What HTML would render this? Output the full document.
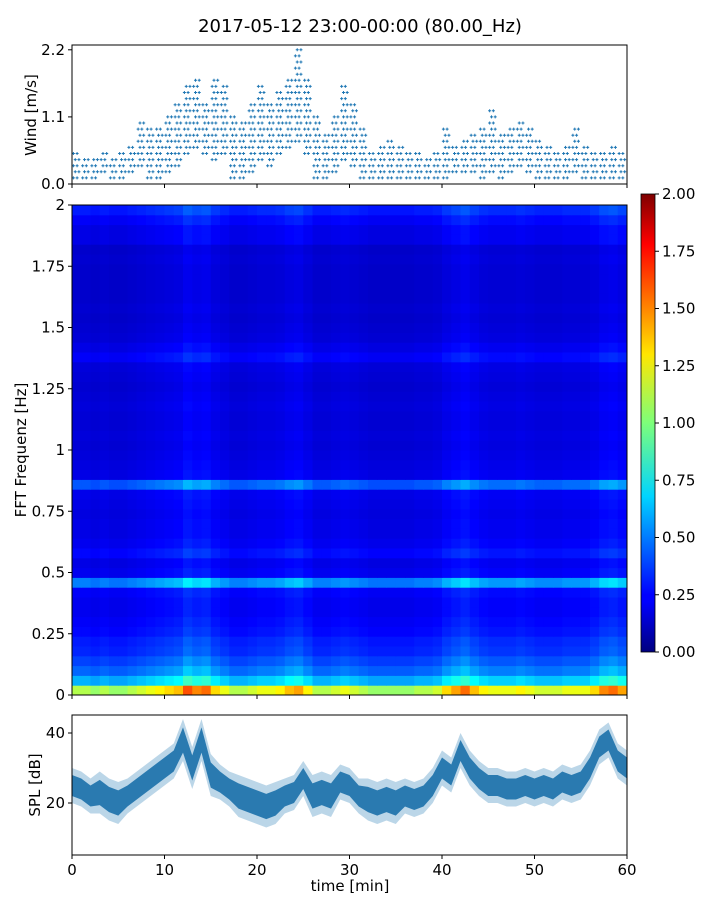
<!DOCTYPE html>
<html><head><meta charset="utf-8">
<style>
body{margin:0;background:#fff;font-family:"Liberation Sans","DejaVu Sans",sans-serif;}
svg text{font-family:"DejaVu Sans","Liberation Sans",sans-serif;}
</style></head>
<body>
<svg id="chart" width="720" height="900" xmlns="http://www.w3.org/2000/svg">
<defs>
<linearGradient id="jetg" x1="0" y1="1" x2="0" y2="0">
<stop offset="0" stop-color="#00007f"/><stop offset="0.11" stop-color="#0000ff"/>
<stop offset="0.125" stop-color="#0000ff"/><stop offset="0.34" stop-color="#00d4ff"/>
<stop offset="0.5" stop-color="#7dff7a"/><stop offset="0.65" stop-color="#ffe600"/>
<stop offset="0.89" stop-color="#ff0000"/><stop offset="1" stop-color="#7f0000"/>
</linearGradient>
</defs>
<text x="360" y="32" font-size="18" text-anchor="middle">2017-05-12 23:00-00:00 (80.00_Hz)</text>
<g id="wind"></g>
<g id="spec"></g>
<g id="cbar"></g>
<g id="spl"></g>
</svg>
<script>
const minutes=[...Array(60).keys()];
const windMax=[0.55,0.45,0.45,0.55,0.45,0.55,0.65,1.0,0.9,0.9,1.1,1.3,1.6,1.75,1.3,1.75,1.65,1.1,1.0,1.3,1.6,1.3,1.5,1.7,2.2,1.7,1.1,0.8,1.1,1.6,1.3,0.9,0.55,0.65,0.75,0.65,0.55,0.55,0.45,0.55,0.9,0.65,0.7,0.8,0.9,1.2,0.8,0.9,1.0,0.9,0.7,0.65,0.55,0.65,0.9,0.65,0.55,0.55,0.65,0.55];
const windMin=[0.1,0.1,0.1,0.2,0.1,0.1,0.2,0.3,0.1,0.1,0.2,0.3,0.5,0.6,0.5,0.4,0.5,0.1,0.1,0.2,0.4,0.3,0.5,0.6,0.7,0.5,0.1,0.1,0.2,0.4,0.3,0.1,0.1,0.1,0.1,0.1,0.1,0.1,0.1,0.1,0.1,0.2,0.2,0.2,0.1,0.2,0.1,0.2,0.3,0.2,0.1,0.1,0.1,0.1,0.2,0.1,0.1,0.1,0.1,0.1];
const splMean=[25,24,22,23,21,20,22,24,26,28,30,32,38,30,38,28,26,24,22,21,20,19,20,22,23,27,22,23,22,26,25,22,21,20,21,20,22,21,22,25,30,28,35,30,27,25,25,24,24,25,24,25,24,26,25,26,30,36,38,32,30];
const splSpread=[5,5,5,6,6,6,5,5,5,5,5,5,6,6,6,6,5,5,6,6,6,6,6,5,5,5,6,6,6,5,5,5,6,6,6,6,5,5,5,5,5,5,5,5,5,5,5,5,5,5,5,5,5,5,5,5,5,5,5,5,5];
const freqRows=[1.1,0.6,0.45,0.38,0.32,0.3,0.26,0.24,0.22,0.22,0.24,0.5,0.22,0.2,0.26,0.22,0.2,0.2,0.19,0.2,0.21,0.42,0.2,0.19,0.18,0.17,0.18,0.17,0.17,0.18,0.17,0.16,0.17,0.18,0.24,0.2,0.17,0.16,0.15,0.16,0.15,0.15,0.15,0.15,0.16,0.15,0.2,0.2,0.24,0.3];
const timeCols=[1.0,1.0,0.95,1.0,0.95,0.95,1.0,1.05,1.1,1.15,1.2,1.25,1.45,1.35,1.4,1.2,1.1,1.0,1.0,1.05,1.1,1.1,1.15,1.25,1.3,1.15,1.0,1.0,1.05,1.1,1.05,1.0,0.95,0.95,0.95,0.95,0.95,1.0,1.0,1.05,1.2,1.3,1.4,1.25,1.15,1.1,1.1,1.1,1.15,1.1,1.05,1.05,1.05,1.1,1.1,1.1,1.2,1.35,1.4,1.3];
const xTicks=[0,10,20,30,40,50,60];
const windTicks=[0.0,1.1,2.2];
const specTicks=[0,0.25,0.5,0.75,1,1.25,1.5,1.75,2];
const specTickLabels=["0","0.25","0.5","0.75","1","1.25","1.5","1.75","2"];
const cbarTicks=[0,0.25,0.5,0.75,1,1.25,1.5,1.75,2];
const splTicks=[20,40];

const NS="http://www.w3.org/2000/svg";
function mk(tag,attrs,parent){const e=document.createElementNS(NS,tag);for(const k in attrs)e.setAttribute(k,attrs[k]);parent.appendChild(e);return e;}
const X0=72,X1=627;
const xs=t=>X0+(t/60)*(X1-X0);
const wy=v=>184-v*61;
const fy=f=>695-f*245;
const sy=d=>873-d*3.5;
const cy=v=>652-v*229;

function jet(v){v=Math.max(0,Math.min(1,v));
 const r=Math.max(0,Math.min(1,1.5-Math.abs(4*v-3))),g=Math.max(0,Math.min(1,1.5-Math.abs(4*v-2))),b=Math.max(0,Math.min(1,1.5-Math.abs(4*v-1)));
 return `rgb(${Math.round(r*255)},${Math.round(g*255)},${Math.round(b*255)})`;}

function frame(g,y0,y1,name){const r=mk('rect',{x:X0,y:y0,width:X1-X0,height:y1-y0,fill:'none',stroke:'#000','stroke-width':1},g);}
function xtickmarks(g,y1,labels){xTicks.forEach(t=>{const l=mk('line',{x1:xs(t),x2:xs(t),y1:y1,y2:y1+4,stroke:'#000'},g);
 if(labels){const tx=mk('text',{x:xs(t),y:y1+20,'font-size':15,'text-anchor':'middle'},g);tx.textContent=t;}});}

// Wind
const wg=document.getElementById('wind');
minutes.forEach(m=>{
 let n=0;
 for(let v=windMin[m];v<=windMax[m]+0.001;v+=0.1){
  n++;
  const ks=(n%2)?[0.15,0.55]:[0.35,0.75];
  ks.forEach(k=>{
   const x=xs(m+k),y=wy(v);
   const p=mk('path',{d:`M${x-1.5},${y}h3M${x},${y-1.5}v3`,stroke:'#1f77b4','stroke-width':1},wg);
   
   
  });}});
frame(wg,45,184,'wind-axes');
xtickmarks(wg,184,false);
windTicks.forEach(v=>{mk('line',{x1:X0-4,x2:X0,y1:wy(v),y2:wy(v),stroke:'#000'},wg);
 const t=mk('text',{x:X0-7,y:wy(v)+5,'font-size':15,'text-anchor':'end'},wg);t.textContent=v.toFixed(1);
 });
{const t=mk('text',{x:0,y:0,'font-size':15,'text-anchor':'middle',transform:'translate(36,115) rotate(-90)'},wg);t.textContent='Wind [m/s]';
}

// Spectrogram
const sg=document.getElementById('spec');
const df=2/freqRows.length;
freqRows.forEach((fv,i)=>{timeCols.forEach((tv,j)=>{
 const v=fv*tv/2;
 const r=mk('rect',{x:xs(j),y:fy((i+1)*df),width:xs(j+1)-xs(j)+0.5,height:fy(i*df)-fy((i+1)*df)+0.5,fill:jet(v)},sg);
 
 
});});
frame(sg,205,695,'spectrogram-axes');
xtickmarks(sg,695,false);
specTicks.forEach((f,i)=>{mk('line',{x1:X0-4,x2:X0,y1:fy(f),y2:fy(f),stroke:'#000'},sg);
 const t=mk('text',{x:X0-7,y:fy(f)+5,'font-size':15,'text-anchor':'end'},sg);t.textContent=specTickLabels[i];
 });
{const t=mk('text',{x:0,y:0,'font-size':15,'text-anchor':'middle',transform:'translate(26,450) rotate(-90)'},sg);t.textContent='FFT Frequenz [Hz]';
}

// Colorbar
const cg=document.getElementById('cbar');
mk('rect',{x:641,y:194,width:14,height:458,fill:'url(#jetg)',stroke:'#000','stroke-width':0.8},cg);
cbarTicks.forEach(v=>{mk('line',{x1:655,x2:659,y1:cy(v),y2:cy(v),stroke:'#000'},cg);
 const t=mk('text',{x:662,y:cy(v)+5,'font-size':15},cg);t.textContent=v.toFixed(2);
 });

// SPL
const pg=document.getElementById('spl');
let up='';
splMean.forEach((v,i)=>{up+=(i?'L':'M')+xs(i)+','+sy(v+splSpread[i]);});
for(let i=splMean.length-1;i>=0;i--){up+='L'+xs(i)+','+sy(splMean[i]-splSpread[i]);}
{const p=mk('path',{d:up+'Z',fill:'#1f77b4','fill-opacity':0.3},pg);}
let mid='';
splMean.forEach((v,i)=>{mid+=(i?'L':'M')+xs(i)+','+sy(v+splSpread[i]*0.6);});
for(let i=splMean.length-1;i>=0;i--){mid+='L'+xs(i)+','+sy(splMean[i]-splSpread[i]*0.6);}
{const p=mk('path',{d:mid+'Z',fill:'#2a7ab0'},pg);}
frame(pg,715,855,'spl-axes');
xtickmarks(pg,855,true);
splTicks.forEach(v=>{mk('line',{x1:X0-4,x2:X0,y1:sy(v),y2:sy(v),stroke:'#000'},pg);
 const t=mk('text',{x:X0-7,y:sy(v)+5,'font-size':15,'text-anchor':'end'},pg);t.textContent=v;
 });
{const t=mk('text',{x:0,y:0,'font-size':15,'text-anchor':'middle',transform:'translate(40,785) rotate(-90)'},pg);t.textContent='SPL [dB]';
}
{const t=mk('text',{x:350,y:891,'font-size':15,'text-anchor':'middle'},pg);t.textContent='time [min]';
}
</script>
</body></html>
